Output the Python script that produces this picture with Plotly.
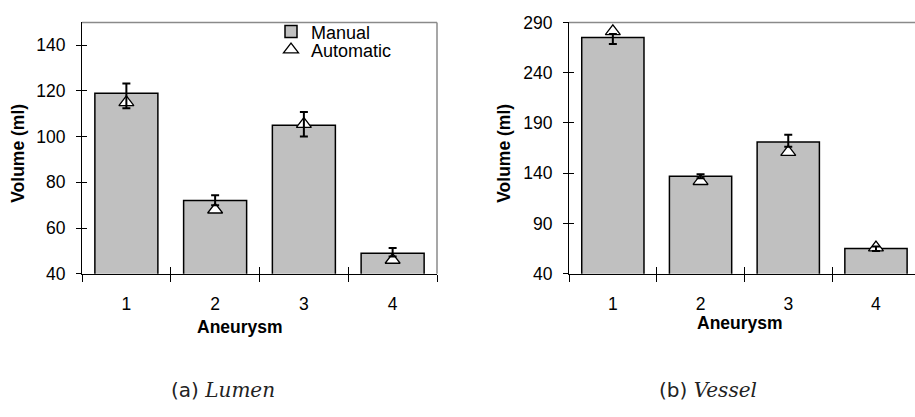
import plotly.graph_objects as go

# ---------------- data ----------------
categories = ["1", "2", "3", "4"]

lumen_manual = [119, 72, 105, 49]
lumen_err_plus = [4.2, 2.3, 5.8, 2.3]
lumen_err_minus = [6.6, 2.0, 4.9, 1.5]
lumen_auto = [115, 68, 105.5, 46]

vessel_manual = [275, 137, 171, 65]
vessel_err_plus = [3.5, 2.0, 7.3, 2.1]
vessel_err_minus = [6.5, 2.0, 4.6, 2.5]
vessel_auto = [281, 132, 161, 66]

lumen_yticks = [40, 60, 80, 100, 120, 140]
vessel_yticks = [40, 90, 140, 190, 240, 290]

# ---------------- layout geometry ----------------
W, H = 915, 417
def px_x(p):
    return p / W
def px_y(p):
    return 1 - p / H

FONT = "Liberation Sans"
BAR_FILL = "#c0c0c0"
FRAME = "#8a8a8a"

fig = go.Figure()

def add_panel(xa, ya, xo, yo, manual, eplus, eminus, auto, show_legend):
    fig.add_trace(go.Bar(
        x=categories, y=manual, name="Manual", width=0.71,
        marker=dict(color=BAR_FILL, line=dict(color="black", width=1.5)),
        xaxis=xa, yaxis=ya, showlegend=show_legend, legend="legend",
        hoverinfo="skip"))
    fig.add_trace(go.Scatter(
        x=categories, y=auto, name="Automatic", mode="markers",
        marker=dict(symbol="triangle-up", size=13, color="white",
                    line=dict(color="black", width=1.3)),
        xaxis=xa, yaxis=ya, showlegend=show_legend, legend="legend2",
        hoverinfo="skip"))
    fig.add_trace(go.Scatter(
        x=categories, y=manual, mode="markers",
        marker=dict(size=1, color="rgba(0,0,0,0)"),
        error_y=dict(type="data", symmetric=False, array=eplus,
                     arrayminus=eminus, color="black", thickness=2, width=4),
        xaxis=xa, yaxis=ya, showlegend=False, hoverinfo="skip"))
    # invisible trace for the overlay axes (crossing ticks)
    fig.add_trace(go.Scatter(
        x=categories, y=manual, mode="markers",
        marker=dict(size=1, color="rgba(0,0,0,0)"),
        xaxis=xo, yaxis=yo, showlegend=False, hoverinfo="skip"))

add_panel("x", "y", "x3", "y3", lumen_manual, lumen_err_plus, lumen_err_minus, lumen_auto, True)
add_panel("x2", "y2", "x4", "y4", vessel_manual, vessel_err_plus, vessel_err_minus, vessel_auto, False)

left_dom = [px_x(82), px_x(437)]
right_dom = [px_x(569), 1.0]
ydom = [px_y(277), px_y(13)]

tickfont = dict(family=FONT, size=17.5, color="black")

def xaxis_main(dom, rng):
    return dict(domain=dom, type="category", categoryorder="array",
                categoryarray=categories, range=rng, tickson="boundaries",
                ticks="outside", ticklen=7, tickwidth=1, tickcolor="black",
                showline=True, linecolor="black", linewidth=1.2,
                showgrid=False, zeroline=False, tickfont=tickfont,
                ticklabelstandoff=14, fixedrange=True)

def xaxis_over(base, rng):
    return dict(overlaying=base, type="category", categoryorder="array",
                categoryarray=categories, range=rng, tickson="boundaries",
                ticks="inside", ticklen=7, tickwidth=1, tickcolor="black",
                showline=False, showgrid=False, zeroline=False,
                showticklabels=False, fixedrange=True)

def yaxis_main(anchor, rng, tv):
    return dict(domain=ydom, anchor=anchor, range=rng, tickvals=tv,
                ticks="outside", ticklen=5, tickwidth=1, tickcolor="black",
                showline=True, linecolor="black", linewidth=1.2,
                showgrid=False, zeroline=False, tickfont=tickfont,
                ticklabelstandoff=7, fixedrange=True)

def yaxis_over(base, anchor, rng, tv):
    return dict(overlaying=base, anchor=anchor, range=rng, tickvals=tv,
                ticks="inside", ticklen=5, tickwidth=1, tickcolor="black",
                showline=False, showgrid=False, zeroline=False,
                showticklabels=False, fixedrange=True)

xr_left = [-0.5, 3.5]
xr_right = [-0.5, 3.445]
yr_left = [40, 150]
yr_right = [40, 290]

legend_common = dict(xanchor="left", yanchor="middle",
                     font=dict(family=FONT, size=18, color="black"),
                     bgcolor="rgba(0,0,0,0)", borderwidth=0,
                     itemclick=False, itemdoubleclick=False)

fig.update_layout(
    width=W, height=H, autosize=False,
    margin=dict(l=0, r=0, t=0, b=0),
    paper_bgcolor="white", plot_bgcolor="white",
    bargap=0.29,
    xaxis=dict(**xaxis_main(left_dom, xr_left), anchor="y"),
    yaxis=yaxis_main("x", yr_left, lumen_yticks),
    xaxis3=dict(**xaxis_over("x", xr_left), anchor="y3"),
    yaxis3=yaxis_over("y", "x3", yr_left, lumen_yticks),
    xaxis2=dict(**xaxis_main(right_dom, xr_right), anchor="y2"),
    yaxis2=yaxis_main("x2", yr_right, vessel_yticks),
    xaxis4=dict(**xaxis_over("x2", xr_right), anchor="y4"),
    yaxis4=yaxis_over("y2", "x4", yr_right, vessel_yticks),
    legend=dict(x=px_x(271), y=px_y(23), **legend_common),
    legend2=dict(x=px_x(271), y=px_y(42), **legend_common),
    showlegend=True,
)

# gray frame (top/right)
fig.add_shape(type="line", xref="x domain", yref="y domain", x0=0, x1=1, y0=1, y1=1,
              line=dict(color=FRAME, width=1.5), layer="below")
fig.add_shape(type="line", xref="x domain", yref="y domain", x0=1, x1=1, y0=0, y1=1,
              line=dict(color=FRAME, width=1.5), layer="below")
fig.add_shape(type="line", xref="x2 domain", yref="y2 domain", x0=0, x1=1, y0=1, y1=1,
              line=dict(color=FRAME, width=1.5), layer="below")

title_font = dict(family=FONT, size=17.5, color="black")
cap_font = dict(family="DejaVu Sans", size=20, color="#222")
ann = [
    dict(text="<b>Volume (ml)</b>", x=px_x(18), y=px_y(151), textangle=-90, font=title_font),
    dict(text="<b>Volume (ml)</b>", x=px_x(504), y=px_y(151), textangle=-90, font=title_font),
    dict(text="<b>Aneurysm</b>", x=px_x(240), y=px_y(333), font=title_font),
    dict(text="<b>Aneurysm</b>", x=px_x(740), y=px_y(329), font=title_font),
    dict(text="(a) <span style=\"font-family:'DejaVu Serif'\"><i>Lumen</i></span>",
         x=px_x(223), y=px_y(399), font=cap_font),
    dict(text="(b) <span style=\"font-family:'DejaVu Serif'\"><i>Vessel</i></span>",
         x=px_x(708), y=px_y(399), font=cap_font),
]
for a in ann:
    fig.add_annotation(xref="paper", yref="paper", showarrow=False,
                       xanchor="center", yanchor="middle", borderpad=0, **a)

fig.write_html("out.html", config={"displayModeBar": False},
               post_script="document.body.style.margin='0';")
